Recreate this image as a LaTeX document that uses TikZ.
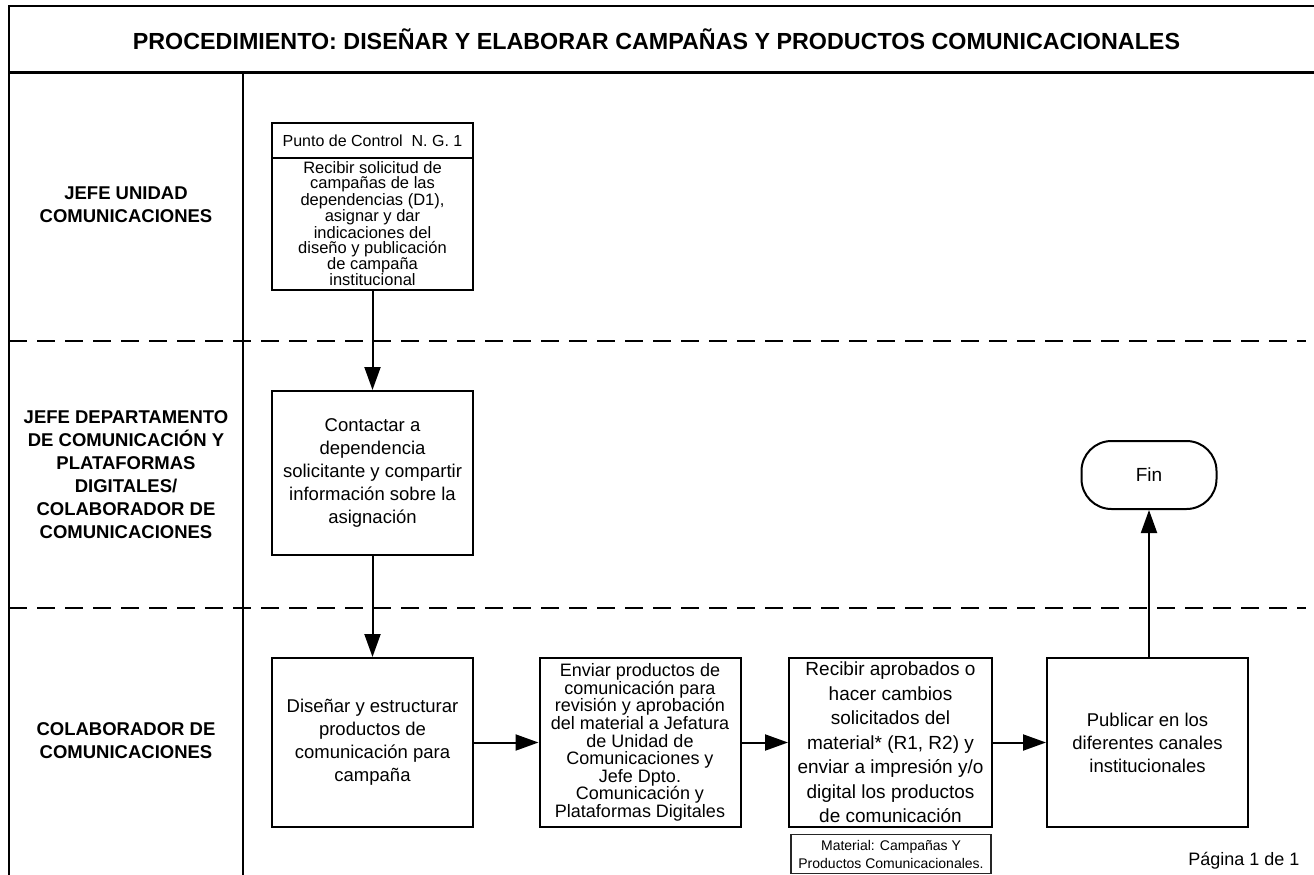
\documentclass[tikz,border=0pt]{standalone}
\usepackage{fontspec}
\setmainfont{Liberation Sans}
\usetikzlibrary{arrows.meta}
\begin{document}
\begin{tikzpicture}[x=1pt,y=-1pt,
  frameline/.style={line width=2.5pt},
  laneline/.style={line width=2.5pt, dash pattern=on 18pt off 10pt},
  box/.style={draw, line width=2pt, minimum width=201pt, minimum height=168pt,
    inner sep=0pt, align=center, font=\fontsize{18.5}{23}\selectfont},
  txt/.style={inner sep=0pt, align=center, font=\fontsize{18.5}{23}\selectfont},
  flow/.style={line width=2pt, -{Triangle[length=23pt,width=16pt]}},
  lanelabel/.style={align=center, font=\bfseries\fontsize{18.5}{23}\selectfont},
  terminal/.style={draw, line width=2pt, rounded corners=30pt, minimum width=135pt,
    minimum height=68pt, font=\fontsize{19}{23}\selectfont}
]
\useasboundingbox (0,0) rectangle (1314,875);

% outer frame, title band and lane separators
\coordinate (tl) at (9,6);
\coordinate (tr) at (1314,6);
\coordinate (hl) at (9,72.5);
\coordinate (hr) at (1314,72.5);
\coordinate (bl) at (9,875);
\coordinate (dtop) at (243,72.5);
\coordinate (dbot) at (243,875);
\draw[frameline] (bl) -- (tl) -- (tr);
\draw[frameline] (hl) -- (hr);
\draw[frameline] (dtop) -- (dbot);
\coordinate (l1a) at (9,341);
\coordinate (l1b) at (1306,341);
\coordinate (l2a) at (9,608);
\coordinate (l2b) at (1306,608);
\draw[laneline] (l1a) -- (l1b);
\draw[laneline] (l2a) -- (l2b);

\node[font=\bfseries\fontsize{23.3}{27}\selectfont] (title) at (656.5,39)
  {PROCEDIMIENTO: DISEÑAR Y ELABORAR CAMPAÑAS Y PRODUCTOS COMUNICACIONALES};

% lane labels
\node[lanelabel] (lane1) at (126,205) {JEFE UNIDAD\\COMUNICACIONES};
\node[lanelabel] (lane2) at (126,474.5) {JEFE DEPARTAMENTO\\DE COMUNICACIÓN Y\\PLATAFORMAS\\DIGITALES/\\COLABORADOR DE\\COMUNICACIONES};
\node[lanelabel] (lane3) at (126,741) {COLABORADOR DE\\COMUNICACIONES};

% control point box
\node[box, minimum height=167pt] (b1) at (372.5,206.5) {};
\coordinate (h1) at (272,158);
\coordinate (h2) at (473,158);
\draw[line width=2pt] (h1) -- (h2);
\node[txt, font=\fontsize{16}{19}\selectfont] (b1head) at (372.5,140.5) {Punto de Control\ \ N. G. 1};
\node[txt, font=\fontsize{16.5}{15}\selectfont] (b1body) at (372.5,224)
  {Recibir solicitud de\\campañas de las\\dependencias (D1),\\asignar y dar\\indicaciones del\\diseño y publicación\\de campaña\\institucional};

% process boxes
\node[box, minimum height=164pt] (b2) at (372.5,473)
  {Contactar a\\dependencia\\solicitante y compartir\\información sobre la\\asignación};
\node[box, minimum height=169pt] (b3) at (372.5,742.5)
  {Diseñar y estructurar\\productos de\\comunicación para\\campaña};
\node[box, minimum height=169pt, font=\fontsize{18}{17.6}\selectfont] (b4) at (640,742.5)
  {Enviar productos de\\comunicación para\\revisión y aprobación\\del material a Jefatura\\de Unidad de\\Comunicaciones y\\Jefe Dpto.\\Comunicación y\\Plataformas Digitales};
\node[box, minimum height=169pt, minimum width=203pt, font=\fontsize{19}{24.5}\selectfont] (b5) at (890.5,742.5)
  {Recibir aprobados o\\hacer cambios\\solicitados del\\material* (R1, R2) y\\enviar a impresión y/o\\digital los productos\\de comunicación};
\node[box, minimum height=169pt] (b6) at (1147.5,742.5)
  {Publicar en los\\diferentes canales\\institucionales};
\node[draw=black!85, line width=1.2pt, minimum width=200pt, minimum height=39pt,
  inner sep=0pt, align=center, font=\fontsize{14}{18}\selectfont] (mat) at (891,854)
  {Material: Campañas Y\\Productos Comunicacionales.};
\node[terminal] (fin) at (1149,475) {Fin};

% flow
\draw[flow] (b1) -- (b2);
\draw[flow] (b2) -- (b3);
\draw[flow] (b3) -- (b4);
\draw[flow] (b4) -- (b5);
\draw[flow] (b5) -- (b6);
\draw[flow] (b6.north -| fin.south) -- (fin.south);

\node[anchor=east, font=\fontsize{18}{22}\selectfont] (page) at (1303,861) {Página 1 de 1};
\end{tikzpicture}
\end{document}
